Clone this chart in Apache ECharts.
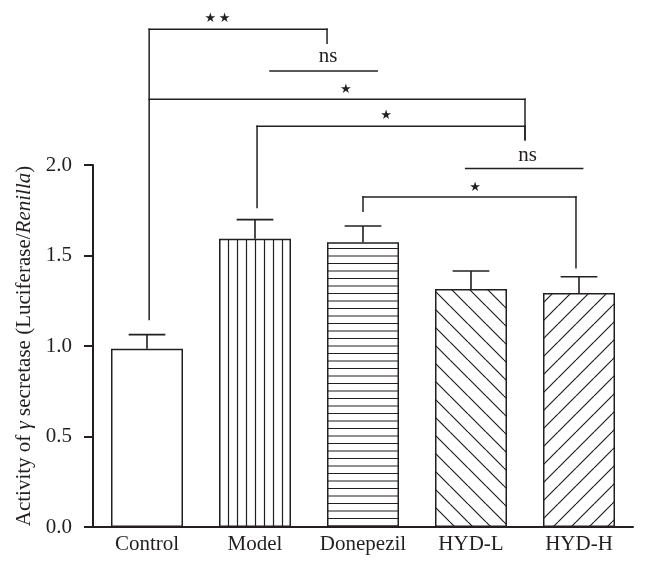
<!DOCTYPE html>
<html><head><meta charset="utf-8">
<script src="https://cdn.jsdelivr.net/npm/echarts@6/dist/echarts.min.js"></script>
<style>html,body{margin:0;padding:0;background:#fff}#c{width:648px;height:570px}</style>
</head><body><div id="c"></div>
<script>
// ---- data ----
const categories = ['Control', 'Model', 'Donepezil', 'HYD-L', 'HYD-H'];
const means = [0.985, 1.593, 1.573, 1.315, 1.293];
const errors = [0.078, 0.105, 0.090, 0.099, 0.090];
const patterns = ['none', 'vertical', 'horizontal', 'backslash', 'slash'];
const yMin = 0, yMax = 2.0, yInterval = 0.5;
// significance brackets: [x1, x2, y, leftEnd, rightEnd]  (x in category index units, y in data units)
const brackets = [
  [0.02, 1.667, 2.750, 1.147, 2.672],
  [1.139, 2.132, 2.519, null, null],
  [0.02, 3.50, 2.363, null, 2.140],
  [1.019, 3.50, 2.214, 1.765, 2.140],
  [2.951, 4.034, 1.980, null, null],
  [2.00, 3.972, 1.823, 1.744, 1.433]
];
const sigLabels = ['★\u2009★', 'ns', '★', '★', 'ns', '★'];
const sigLabelX = [0.653, 1.676, 1.840, 2.213, 3.525, 3.037];
const sigLabelY = [2.810, 2.600, 2.417, 2.275, 2.050, 1.875];

// ---- style ----
const ink = '#231f20';
const serif = '"Liberation Serif", "DejaVu Serif", serif';

function makePattern(type) {
  if (type === 'none') return '#ffffff';
  const c = document.createElement('canvas');
  let w = 18, h = 18;
  if (type === 'vertical') { w = 9; h = 9; }
  if (type === 'horizontal') { w = 15; h = 15; }
  c.width = w; c.height = h;
  const ctx = c.getContext('2d');
  ctx.fillStyle = '#fff'; ctx.fillRect(0, 0, w, h);
  ctx.strokeStyle = ink; ctx.lineWidth = 1.2;
  ctx.beginPath();
  if (type === 'vertical') {
    ctx.moveTo(3.5, 0); ctx.lineTo(3.5, h);
  } else if (type === 'horizontal') {
    ctx.moveTo(0, 1); ctx.lineTo(w, 1);
    ctx.moveTo(0, 8.5); ctx.lineTo(w, 8.5);
  } else if (type === 'slash') {
    for (const k of [-w, 0, w]) { ctx.moveTo(k, h); ctx.lineTo(k + w, 0); }
  } else if (type === 'backslash') {
    for (const k of [-w, 0, w]) { ctx.moveTo(k, 0); ctx.lineTo(k + w, h); }
  }
  ctx.stroke();
  return { image: c, repeat: 'repeat' };
}

const chart = echarts.init(document.getElementById('c'), null, { renderer: 'canvas' });

const option = {
  backgroundColor: '#ffffff',
  animation: false,
  grid: { left: 93, right: 15, top: 165, bottom: 43, containLabel: false },
  xAxis: [
    {
      type: 'category',
      data: categories,
      boundaryGap: true,
      axisLine: { show: true, onZero: false, lineStyle: { color: ink, width: 2 } },
      axisTick: { show: false },
      axisLabel: { color: ink, fontFamily: serif, fontSize: 21, margin: 7, interval: 0 },
      splitLine: { show: false }
    },
    {
      type: 'value', min: -0.5, max: 4.5, show: false,
      axisLine: { show: false, onZero: false }, splitLine: { show: false }
    }
  ],
  yAxis: {
    type: 'value',
    min: yMin, max: yMax, interval: yInterval,
    axisLine: { show: true, onZero: false, lineStyle: { color: ink, width: 2 } },
    axisTick: { show: true, inside: false, length: 9, lineStyle: { color: ink, width: 2 } },
    axisLabel: { color: ink, fontFamily: serif, fontSize: 21, margin: 21, formatter: v => v.toFixed(1) },
    splitLine: { show: false },
    name: '{n|Activity of }{i|γ}{n| secretase (Luciferase/}{i|Renilla}{n|)}',
    nameLocation: 'middle',
    nameRotate: 90,
    nameGap: 58,
    nameTextStyle: {
      color: ink, fontFamily: serif, fontSize: 21,
      rich: {
        n: { color: ink, fontFamily: serif, fontSize: 21 },
        i: { color: ink, fontFamily: serif, fontSize: 21, fontStyle: 'italic' }
      }
    }
  },
  series: [
    {
      type: 'bar',
      xAxisIndex: 0,
      barWidth: '66.67%',
      data: means.map((v, i) => ({
        value: v,
        itemStyle: { color: makePattern(patterns[i]), borderColor: ink, borderWidth: 1.5 }
      })),
      z: 2
    },
    {
      type: 'custom',
      xAxisIndex: 0,
      z: 3,
      data: means.map((m, i) => [i, m, errors[i]]),
      renderItem: function (params, api) {
        const i = api.value(0), m = api.value(1), e = api.value(2);
        const base = api.coord([i, m]);
        const top = api.coord([i, m + e]);
        const hw = api.size([1, 0])[0] * 0.17;
        const st = { stroke: ink, lineWidth: 1.6 };
        return {
          type: 'group',
          children: [
            { type: 'line', shape: { x1: base[0], y1: base[1], x2: top[0], y2: top[1] }, style: st },
            { type: 'line', shape: { x1: top[0] - hw, y1: top[1], x2: top[0] + hw, y2: top[1] }, style: st }
          ]
        };
      }
    },
    {
      type: 'custom',
      xAxisIndex: 1,
      clip: false,
      z: 4,
      data: brackets.map((b, i) => [b[0], b[2], i]),
      renderItem: function (params, api) {
        const i = params.dataIndex;
        const b = brackets[i];
        const st = { stroke: ink, lineWidth: 1.5, lineCap: 'square' };
        const p1 = api.coord([b[0], b[2]]);
        const p2 = api.coord([b[1], b[2]]);
        const ch = [{ type: 'line', shape: { x1: p1[0], y1: p1[1], x2: p2[0], y2: p2[1] }, style: st }];
        if (b[3] != null) {
          const q = api.coord([b[0], b[3]]);
          ch.push({ type: 'line', shape: { x1: p1[0], y1: p1[1], x2: q[0], y2: q[1] }, style: st });
        }
        if (b[4] != null) {
          const q = api.coord([b[1], b[4]]);
          ch.push({ type: 'line', shape: { x1: p2[0], y1: p2[1], x2: q[0], y2: q[1] }, style: st });
        }
        const lp = api.coord([sigLabelX[i], sigLabelY[i]]);
        const isStar = sigLabels[i].indexOf('★') >= 0;
        ch.push({
          type: 'text', x: lp[0], y: lp[1],
          style: {
            text: sigLabels[i], align: 'center', verticalAlign: 'middle', fill: ink,
            font: isStar ? '13px "DejaVu Sans", sans-serif' : '21px "Liberation Serif", serif'
          }
        });
        return { type: 'group', children: ch };
      }
    }
  ]
};
chart.setOption(option);
</script>
</body></html>
